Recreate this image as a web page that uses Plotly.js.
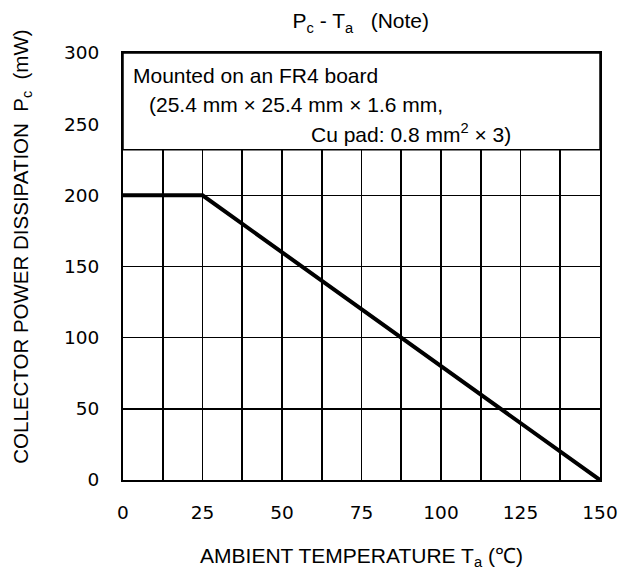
<!DOCTYPE html>
<html>
<head>
<meta charset="utf-8">
<script src="https://cdn.plot.ly/plotly-3.0.1.min.js"></script>
<style>html,body{margin:0;padding:0;background:#fff;}</style>
</head>
<body>
<div id="chart" style="width:622px;height:570px;"></div>
<script>
// Data
const temperature = [0, 25, 150];
const powerDissipation = [200, 200, 0];
const xTicks = [0, 25, 50, 75, 100, 125, 150];
const yTicks = [0, 50, 100, 150, 200, 250, 300];
const noteLines = [
  "Mounted on an FR4 board",
  "(25.4 mm × 25.4 mm × 1.6 mm,",
  "Cu pad: 0.8 mm<sup>2</sup> × 3)"
];
const noteBoxBottom = 232;

const arial = "Liberation Sans, Arial, sans-serif";
const txt = {family: arial, size: 21, color: "#000"};
const tickFont = {family: "DejaVu Sans, Verdana, sans-serif", size: 18.5, color: "#000"};

const trace = {
  x: temperature, y: powerDissipation, type: "scatter", mode: "lines",
  line: {color: "#000", width: 4}, cliponaxis: false, hoverinfo: "skip"
};

const layout = {
  width: 622, height: 570,
  margin: {l: 123, r: 22, t: 53, b: 90},
  paper_bgcolor: "#fff", plot_bgcolor: "#fff",
  showlegend: false,
  title: {
    text: "P<sub>c</sub> - T<sub>a</sub>   (Note)",
    font: {family: arial, size: 21, color: "#000"},
    x: 0.58, xanchor: "center", xref: "container",
    y: 0.963, yanchor: "middle"
  },
  xaxis: {
    range: [0, 150], tickvals: xTicks, ticktext: xTicks.map(String),
    showgrid: true, gridcolor: "#000", gridwidth: 1.6,
    minor: {dtick: 12.5, showgrid: true, gridcolor: "#000", gridwidth: 1.6},
    showline: true, linecolor: "#000", linewidth: 2, mirror: true,
    zeroline: false, ticks: "", tickfont: tickFont, ticklabelstandoff: 15,
    title: {text: "AMBIENT TEMPERATURE T<sub>a</sub> (℃)", font: txt, standoff: 26}
  },
  yaxis: {
    range: [0, 300], tickvals: yTicks, ticktext: yTicks.map(String),
    showgrid: true, gridcolor: "#000", gridwidth: 1.6,
    showline: true, linecolor: "#000", linewidth: 2, mirror: true,
    zeroline: false, ticks: "", tickfont: tickFont, ticklabelstandoff: 18
  },
  shapes: [{
    type: "rect", xref: "x", yref: "y", x0: 0, x1: 150, y0: noteBoxBottom, y1: 300,
    fillcolor: "#fff", line: {color: "#000", width: 1.5}, layer: "above"
  }],
  annotations: [
    {text: "COLLECTOR POWER DISSIPATION  P<sub>c</sub>  (mW)", textangle: -90, xref: "paper", yref: "paper", x: -0.212, y: 0.546, xanchor: "center", yanchor: "middle", showarrow: false, font: {family: arial, size: 20.5, color: "#000"}},
    {text: noteLines[0], xref: "paper", yref: "y", x: 0.017, y: 284.5, xanchor: "left", yanchor: "middle", showarrow: false, font: txt},
    {text: noteLines[1], xref: "paper", yref: "y", x: 0.050, y: 263.5, xanchor: "left", yanchor: "middle", showarrow: false, font: txt},
    {text: noteLines[2], xref: "paper", yref: "y", x: 0.818, y: 243.5, xanchor: "right", yanchor: "middle", showarrow: false, font: txt}
  ]
};

Plotly.newPlot("chart", [trace], layout, {displayModeBar: false, staticPlot: true});
</script>
</body>
</html>
